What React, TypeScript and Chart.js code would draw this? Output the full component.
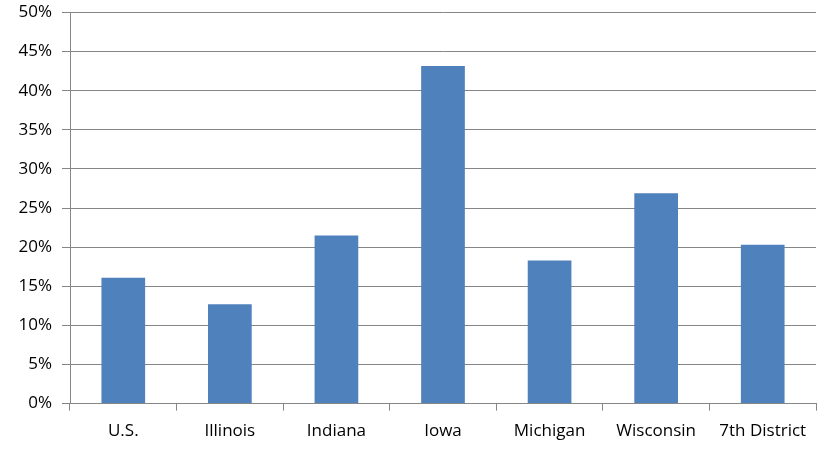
import React, { useEffect, useRef } from "react";
import { Chart, registerables } from "chart.js";

Chart.register(...registerables);

const categories = ["U.S.", "Illinois", "Indiana", "Iowa", "Michigan", "Wisconsin", "7th District"];
const values = [16.1, 12.7, 21.5, 43.15, 18.3, 26.9, 20.3];

export default function App() {
  const ref = useRef<HTMLCanvasElement | null>(null);
  useEffect(() => {
    const ctx = ref.current!;
    const font = { family: "'Open Sans', 'Liberation Sans', sans-serif", size: 17 };
    const chart = new Chart(ctx, {
      type: "bar",
      data: {
        labels: categories,
        datasets: [
          {
            data: values,
            backgroundColor: "#4F81BD",
            borderWidth: 0,
            barPercentage: 0.41,
            categoryPercentage: 1,
          },
        ],
      },
      options: {
        animation: false,
        responsive: false,
        maintainAspectRatio: false,
        layout: { padding: { top: 12.5, right: 24, bottom: 6, left: 0 } },
        plugins: { legend: { display: false }, tooltip: { enabled: false } },
        scales: {
          x: {
            grid: {
              offset: true,
              drawOnChartArea: false,
              drawTicks: true,
              tickLength: 7,
              color: "#868686",
              lineWidth: 1,
            },
            border: { color: "#868686", width: 1 },
            ticks: { color: "#000", font, padding: 10, maxRotation: 0, autoSkip: false },
          },
          y: {
            min: 0,
            max: 50,
            afterFit: (s: any) => {
              s.width = 70;
              s.paddingTop = 0;
              s.paddingBottom = 0;
            },
            grid: { color: "#868686", lineWidth: 1, tickLength: 8 },
            border: { color: "#868686", width: 1 },
            ticks: {
              stepSize: 5,
              color: "#000",
              font,
              padding: 10,
              callback: (v: any) => v + "%",
            },
          },
        },
      },
    });
    return () => chart.destroy();
  }, []);
  return (
    <div style={{ position: "fixed", left: 0, top: 0, width: 840, height: 457, background: "#fff" }}>
      <canvas ref={ref} width={840} height={457} style={{ width: 840, height: 457 }} />
    </div>
  );
}
